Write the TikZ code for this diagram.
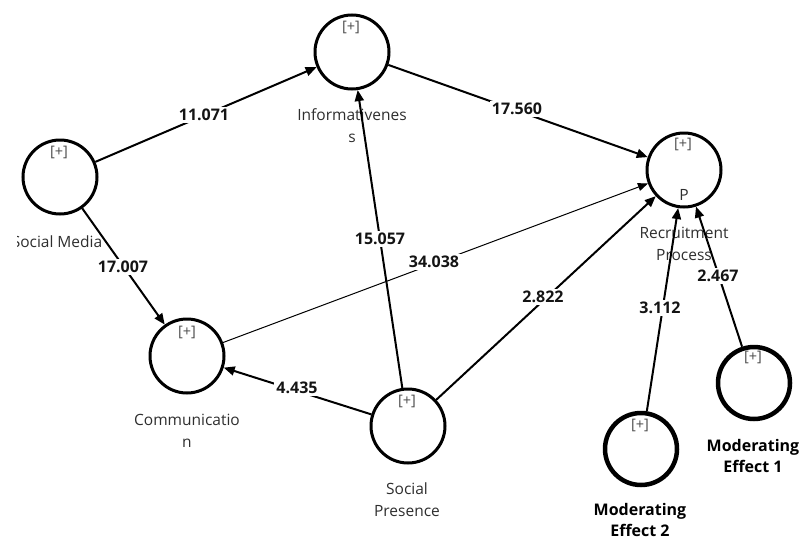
\documentclass[tikz,border=0pt]{standalone}
\usepackage{fontspec}
\setmainfont{Open Sans}
\usetikzlibrary{arrows.meta}
\begin{document}
\begin{tikzpicture}[x=1pt,y=-1pt,
 lv/.style={circle,draw=black,line width=3pt,minimum size=74pt,inner sep=0pt},
 modlv/.style={lv,line width=4.5pt,minimum size=72pt},
 plusmark/.style={font=\fontsize{14.5}{16}\selectfont,text=black!70,inner sep=0pt},
 lvname/.style={font=\fontsize{15.5}{22}\selectfont,text=black!82,align=center,inner sep=0pt},
 lvbname/.style={font=\bfseries\fontsize{16}{21}\selectfont,align=center,inner sep=0pt},
 coef/.style={font=\bfseries\fontsize{16}{18}\selectfont,fill=white,inner sep=2pt,text=black!92},
 conn/.style={line width=2pt,-{Triangle[length=11pt,width=9pt]}},
 thinconn/.style={line width=1pt,-{Triangle[length=10pt,width=8pt]}}]
\useasboundingbox (0,0) rectangle (800,541);
% latent variables
\node[lv] (sm) at (60,177) {};
\node[lv] (inf) at (352,52) {};
\node[lv] (rp) at (684,170) {};
\node[lv] (com) at (187,356) {};
\node[lv] (sp) at (408,426) {};
\node[modlv] (me2) at (641,449) {};
\node[modlv] (me1) at (754,383) {};
% [+] marks
\node[plusmark] (smp) at (59,152) {[+]};
\node[plusmark] (infp) at (351,27) {[+]};
\node[plusmark] (rpp) at (683,144) {[+]};
\node[plusmark] (comp) at (187,332) {[+]};
\node[plusmark] (spp) at (407,401) {[+]};
\node[plusmark] (me2p) at (640,425) {[+]};
\node[plusmark] (me1p) at (753,357) {[+]};
\node[lvname] (rpP) at (684,195) {P};
% names
\begin{scope}
\clip (17,225) rectangle (130,260);
\node[lvname] (smn) at (57,242) {Social Media};
\end{scope}
\node[lvname] (infn) at (352,126) {Informativenes\\s};
\node[lvname] (rpn) at (684,244) {Recruitment\\Process};
\node[lvname] (comn) at (187,431) {Communicatio\\n};
\node[lvname] (spn) at (407,500) {Social\\Presence};
\node[lvbname] (me2n) at (640,520) {Moderating\\Effect 2};
\node[lvbname] (me1n) at (753,456) {Moderating\\Effect 1};
% connectors
\draw[conn] (sm) -- (inf);
\draw[conn] (inf) -- (rp);
\draw[conn] (sm) -- (com);
\draw[thinconn] (com) -- (rp);
\draw[conn] (sp) -- (inf);
\draw[conn] (sp) -- (com);
\draw[conn] (sp) -- (rp);
\draw[conn] (me2) -- (rp);
\draw[conn] (me1) -- (rp);
% coefficients
\node[coef] (c1) at (204,115) {11.071};
\node[coef] (c2) at (517,109) {17.560};
\node[coef] (c3) at (123,267) {17.007};
\node[coef] (c4) at (434,262) {34.038};
\node[coef] (c5) at (380,239) {15.057};
\node[coef] (c6) at (297,388) {4.435};
\node[coef] (c7) at (543,297) {2.822};
\node[coef] (c8) at (660,308) {3.112};
\node[coef] (c9) at (718,276) {2.467};
\end{tikzpicture}
\end{document}
